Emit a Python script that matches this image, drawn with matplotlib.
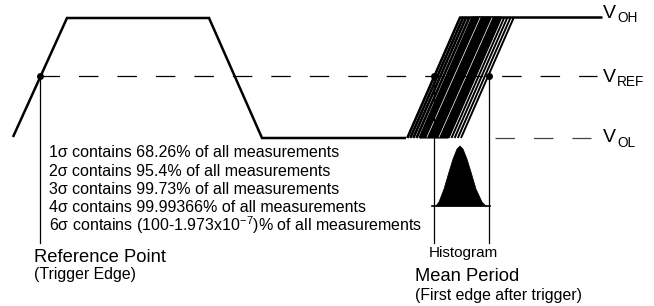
import matplotlib
matplotlib.use("Agg")
import matplotlib.pyplot as plt

plt.rcParams['font.family'] = ['Liberation Sans', 'DejaVu Sans']
plt.rcParams['mathtext.fontset'] = 'custom'
plt.rcParams['mathtext.rm'] = 'Liberation Sans'
plt.rcParams['lines.scale_dashes'] = False

# ---- data (diagram coordinates, pixel space of a 654x306 canvas) ----
wave_x = [13, 67, 209, 262, 406]
wave_y = [137, 18, 18, 138, 138]
high_y = 17
low_y = 138
ref_y = 76
top_line_x = [459, 602]
edge_rise = 53                    # horizontal run of each edge in the bundle
bundle_left = 406                 # bottom x of the earliest edge
bundle_lines_thick = [1.3, 4.3, 7.3, 10.5, 13.7]
bundle_lines_thin = [42.5, 45.5, 48.6, 51.8, 55]
bundle_solid = [14, 42]
bundle_white = [21, 33]
ref_dots_x = [40, 434, 489]
drop_bottom = 243
hist_base_y = 206
hist_base_x = [432, 490]
hist_x = [436, 439, 444, 449, 453, 457, 460, 463, 467, 471, 476, 482, 486]
hist_h = [0, 4, 17, 34, 47, 57, 60, 57, 47, 34, 17, 4, 0]
vref_dash_x = [40, 597]
vol_dash_x = [495, 591]
sigma_lines = [
    "1\u03c3 contains 68.26% of all measurements",
    "2\u03c3 contains 95.4% of all measurements",
    "3\u03c3 contains 99.73% of all measurements",
    "4\u03c3 contains 99.99366% of all measurements",
    "6\u03c3 contains (100-1.973x10$^{\\mathregular{-7}}$)% of all measurements",
]
sigma_baselines = [157, 176, 194, 212, 231]
v_labels = [("OH", 18, 22), ("REF", 82, 86), ("OL", 142, 147)]

fig = plt.figure(figsize=(6.54, 3.06), dpi=100)
ax = fig.add_axes([0, 0, 1, 1])
ax.set_xlim(0, 654)
ax.set_ylim(306, 0)
ax.axis('off')

K = 'black'
lw_main = 1.8

# waveform
ax.plot(wave_x, wave_y, color=K, lw=lw_main, solid_joinstyle='miter', solid_capstyle='butt')
ax.plot(top_line_x, [high_y, high_y], color=K, lw=lw_main, solid_capstyle='butt')

# edge bundle
s0, s1 = bundle_solid
ax.fill([bundle_left + s0, bundle_left + s1, bundle_left + s1 + edge_rise, bundle_left + s0 + edge_rise],
        [low_y, low_y, high_y, high_y], color=K, lw=0.8)
for o in bundle_lines_thick:
    ax.plot([bundle_left + o, bundle_left + o + edge_rise], [low_y, high_y], color=K, lw=1.9,
            solid_capstyle='butt')
for o in bundle_lines_thin:
    ax.plot([bundle_left + o, bundle_left + o + edge_rise], [low_y, high_y], color=K, lw=1.4,
            solid_capstyle='butt')
for o in bundle_white:
    ax.plot([bundle_left + o, bundle_left + o + edge_rise], [low_y - 1, high_y + 1], color='white', lw=0.5)

# reference dashed lines
ax.plot(vref_dash_x, [ref_y, ref_y], color=K, lw=0.9, dashes=(14, 13.7))
ax.plot(vol_dash_x, [low_y, low_y], color='#444444', lw=0.9, dashes=(14, 13.7))

# drop lines and dots
for x in ref_dots_x:
    ax.plot([x, x], [ref_y, drop_bottom], color=K, lw=0.9)
ax.scatter(ref_dots_x, [ref_y] * len(ref_dots_x), s=16, color=K, zorder=5)

# histogram
ax.plot(hist_base_x, [hist_base_y, hist_base_y], color=K, lw=1.2)
ax.fill(hist_x, [hist_base_y - h for h in hist_h], color=K, lw=0.5)

# texts
for t, yb in zip(sigma_lines, sigma_baselines):
    ax.text(49, yb, t, fontsize=11.5, va='baseline', ha='left')
ax.text(34, 262, "Reference Point", fontsize=13.2, va='baseline')
ax.text(34, 279, "(Trigger Edge)", fontsize=11.4, va='baseline')
ax.text(429, 257, "Histogram", fontsize=11, va='baseline')
ax.text(415, 281, "Mean Period", fontsize=13.2, va='baseline')
ax.text(415, 300, "(First edge after trigger)", fontsize=11.4, va='baseline')
for sub, yv, ys in v_labels:
    ax.text(603, yv, "V", fontsize=14, va='baseline')
    ax.text(617, ys, sub, fontsize=9.8, va='baseline')

fig.savefig("out.png", dpi=100)
